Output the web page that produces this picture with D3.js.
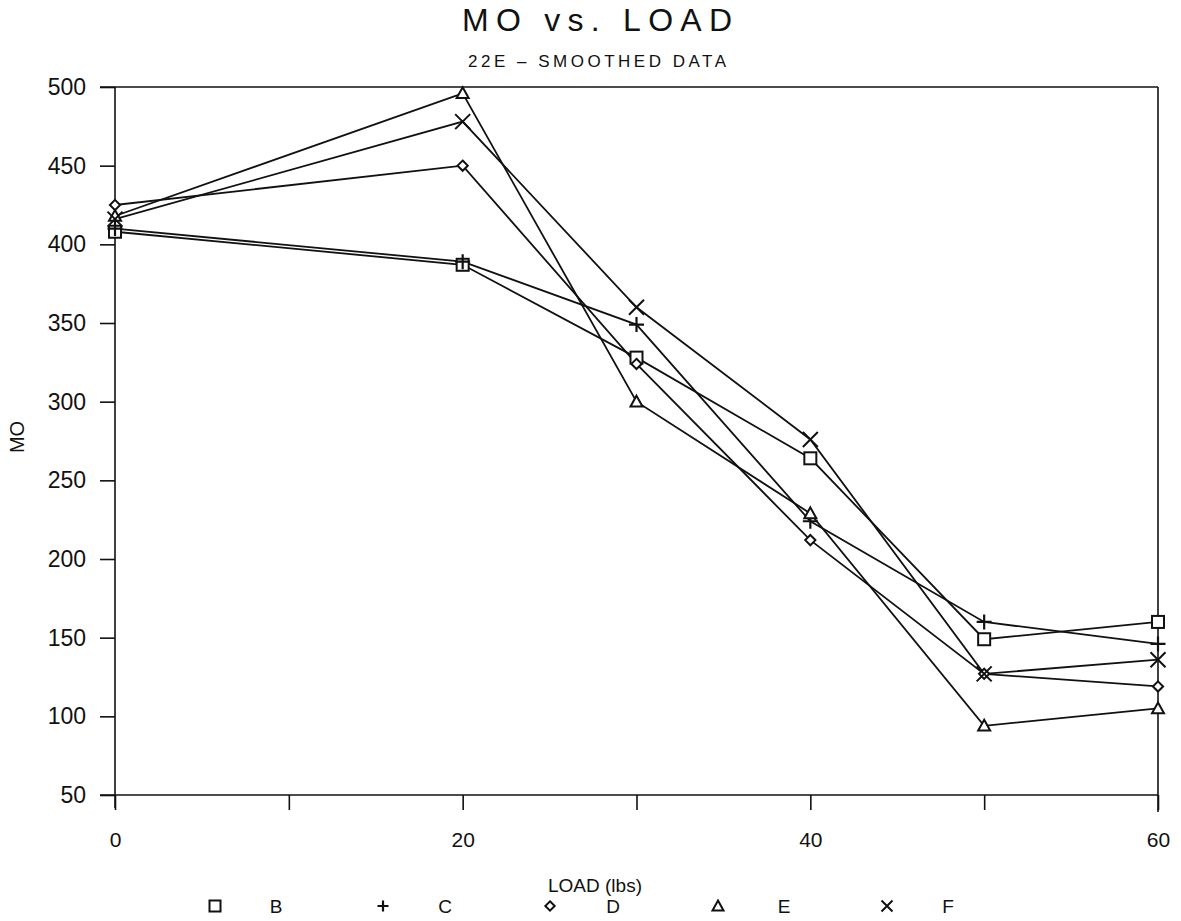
<!DOCTYPE html>
<html>
<head>
<meta charset="utf-8">
<script src="https://cdn.jsdelivr.net/npm/d3@7"></script>
<style>
  body { margin: 0; background: #fff; }
  svg { display: block; }
  text { font-family: "Liberation Sans", "DejaVu Sans", sans-serif; fill: #111; }
</style>
</head>
<body>
<svg id="chart" width="1181" height="921"></svg>
<script>
// ---- data ----
const loads = [0, 20, 30, 40, 50, 60];
const seriesNames = ["B", "C", "D", "E", "F"];
const seriesSymbols = ["square", "plus", "diamond", "triangle", "cross"];
const valuesB = [408, 387, 328, 264, 149, 160];
const valuesC = [410, 389, 349, 224, 160, 146];
const valuesD = [425, 450, 324, 212, 127, 119];
const valuesE = [418, 496, 300, 229, 94, 105];
const valuesF = [416, 478, 360, 276, 127, 136];
const yTicks = [50, 100, 150, 200, 250, 300, 350, 400, 450, 500];
const xTicks = [0, 10, 20, 30, 40, 50, 60];
const xTickLabels = [0, 20, 40, 60];
const titleText = "MO vs. LOAD";
const subtitleText = "22E \u2013 SMOOTHED DATA";
const xLabelText = "LOAD (lbs)";
const yLabelText = "MO";

const allValues = [valuesB, valuesC, valuesD, valuesE, valuesF];
const series = seriesNames.map((n, i) => ({
  name: n, sym: seriesSymbols[i],
  pts: loads.map((x, j) => ({x, y: allValues[i][j]}))
}));

const svg = d3.select("#chart");
const x = d3.scaleLinear().domain([0, 60]).range([115, 1158]);
const y = d3.scaleLinear().domain([50, 500]).range([795, 87]);

const ink = "#111";

// frame: top and right lines
svg.append("line").attr("x1", 100).attr("x2", 1158).attr("y1", y(500)).attr("y2", y(500))
  .attr("stroke", ink).attr("stroke-width", 1.6);
svg.append("line").attr("x1", 1158).attr("x2", 1158).attr("y1", y(500)).attr("y2", 812)
  .attr("stroke", ink).attr("stroke-width", 1.6);

// left axis
const yAxis = d3.axisLeft(y).tickValues(yTicks).tickSize(15).tickPadding(14).tickFormat(d3.format("d"));
const gy = svg.append("g").attr("transform", "translate(115,0)").call(yAxis);
gy.select(".domain").remove();
gy.append("line").attr("x1", 0).attr("x2", 0).attr("y1", y(500)).attr("y2", 808)
  .attr("stroke", ink).attr("stroke-width", 1.6);
gy.selectAll(".tick line").attr("stroke", ink).attr("stroke-width", 1.6);
gy.selectAll(".tick text").attr("font-size", 23).attr("fill", ink);

// bottom axis
const xAxis = d3.axisBottom(x).tickValues(xTicks).tickSize(15).tickPadding(22)
  .tickFormat(d => xTickLabels.includes(d) ? d : "");
const gx = svg.append("g").attr("transform", "translate(0,795)").call(xAxis);
gx.select(".domain").remove();
gx.append("line").attr("x1", 100).attr("x2", 1158).attr("y1", 0).attr("y2", 0)
  .attr("stroke", ink).attr("stroke-width", 1.6);
gx.selectAll(".tick line").attr("stroke", ink).attr("stroke-width", 1.6);
gx.selectAll(".tick text").attr("font-size", 21).attr("fill", ink);

// titles
svg.append("text").attr("x", 597).attr("y", 31).attr("text-anchor", "middle")
  .attr("font-size", 32).attr("textLength", 270).attr("lengthAdjust", "spacing").text(titleText);
svg.append("text").attr("x", 597).attr("y", 67).attr("text-anchor", "middle")
  .attr("font-size", 17).attr("textLength", 258).attr("lengthAdjust", "spacing").text(subtitleText);
svg.append("text").attr("x", 595).attr("y", 892).attr("text-anchor", "middle")
  .attr("font-size", 19).text(xLabelText);
svg.append("text").attr("transform", "translate(24,437) rotate(-90)").attr("text-anchor", "middle")
  .attr("font-size", 20).attr("textLength", 32).attr("lengthAdjust", "spacing").text(yLabelText);

// lines
const line = d3.line().x(d => x(d.x)).y(d => y(d.y));
svg.append("g").selectAll("path").data(series).join("path")
  .attr("d", d => line(d.pts)).attr("fill", "none").attr("stroke", ink).attr("stroke-width", 1.8);

// marker drawing
function marker(g, sym, s) {
  const h = s / 2;
  if (sym === "square") {
    g.append("rect").attr("x", -h).attr("y", -h).attr("width", s).attr("height", s)
      .attr("fill", "#fff").attr("stroke", ink).attr("stroke-width", 2);
  } else if (sym === "plus") {
    g.append("path").attr("d", `M${-h},0H${h}M0,${-h}V${h}`).attr("stroke", ink).attr("stroke-width", 2.2).attr("fill", "none");
  } else if (sym === "diamond") {
    const r = h * 0.85;
    g.append("path").attr("d", `M0,${-r}L${r},0L0,${r}L${-r},0Z`).attr("fill", "#fff").attr("stroke", ink).attr("stroke-width", 2);
  } else if (sym === "triangle") {
    g.append("path").attr("d", `M0,${-h}L${h},${h * 0.8}L${-h},${h * 0.8}Z`).attr("fill", "#fff").attr("stroke", ink).attr("stroke-width", 2);
  } else if (sym === "cross") {
    g.append("path").attr("d", `M${-h},${-h}L${h},${h}M${h},${-h}L${-h},${h}`).attr("stroke", ink).attr("stroke-width", 2).attr("fill", "none");
  }
}

series.forEach(s => {
  s.pts.forEach(p => {
    const g = svg.append("g").attr("transform", `translate(${x(p.x)},${y(p.y)})`);
    marker(g, s.sym, s.sym === "cross" || s.sym === "plus" ? 15 : 12);
  });
});

// legend
const legSymX = [215, 383, 550, 718, 887];
const legTxtX = [276, 445, 613, 784, 948];
series.forEach((s, i) => {
  const g = svg.append("g").attr("transform", `translate(${legSymX[i]},906)`);
  marker(g, s.sym, 11);
  svg.append("text").attr("x", legTxtX[i]).attr("y", 913).attr("text-anchor", "middle")
    .attr("font-size", 19).text(s.name);
});
</script>
</body>
</html>
